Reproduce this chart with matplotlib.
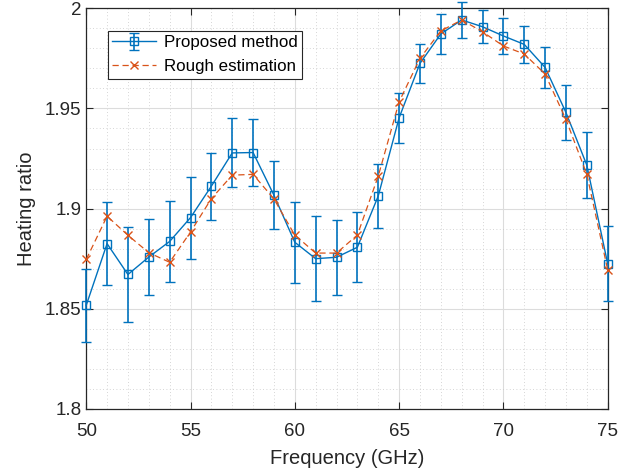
import numpy as np
import matplotlib
matplotlib.use('Agg')
import matplotlib.pyplot as plt
from matplotlib.ticker import MultipleLocator

plt.rcParams['font.family'] = ['Liberation Sans', 'DejaVu Sans']

# frequency points (GHz)
freq = list(range(50, 76))

# proposed method: mean and error bar half-width
proposed = [1.8517, 1.8825, 1.8671, 1.8758, 1.8836, 1.8955, 1.9112, 1.9278,
            1.9280, 1.9067, 1.8832, 1.8750, 1.8757, 1.8807, 1.9063, 1.9453,
            1.9725, 1.9872, 1.9942, 1.9908, 1.9862, 1.9820, 1.9705, 1.9480,
            1.9217, 1.8725]
proposed_err = [0.0183, 0.0208, 0.0236, 0.0190, 0.0200, 0.0205, 0.0167, 0.0172,
                0.0165, 0.0171, 0.0201, 0.0212, 0.0187, 0.0174, 0.0158, 0.0123,
                0.0098, 0.0100, 0.0090, 0.0082, 0.0088, 0.0092, 0.0104, 0.0138,
                0.0164, 0.0188]

# rough estimation
rough = [1.8746, 1.8962, 1.8867, 1.8780, 1.8732, 1.8883, 1.9050, 1.9167,
         1.9171, 1.9048, 1.8868, 1.8778, 1.8778, 1.8868, 1.9162, 1.9533,
         1.9750, 1.9887, 1.9942, 1.9883, 1.9812, 1.9772, 1.9672, 1.9445,
         1.9171, 1.8695]

blue = '#0072BD'
orange = '#D95319'
dark = '#262626'

fig = plt.figure(figsize=(6.41, 4.76), dpi=100)
ax = fig.add_axes([0.1345, 0.141, 0.8135, 0.8415])

eb = ax.errorbar(freq, proposed, yerr=proposed_err, color=blue, lw=1.0,
                 elinewidth=1.2, capsize=3.5, capthick=1.2, marker='s',
                 markersize=6, markerfacecolor='none', markeredgewidth=1.0,
                 label='Proposed method', zorder=3)
# let the end error bars stick out of the axes like in the original
for art in [eb.lines[0]] + list(eb.lines[1]) + list(eb.lines[2]):
    art.set_clip_on(False)
rl, = ax.plot(freq, rough, color=orange, lw=0.9, ls=(0, (5, 3)), marker='x',
              markersize=6, markeredgewidth=1.0, label='Rough estimation',
              zorder=4, clip_on=False)

ax.set_xlim(50, 75)
ax.set_ylim(1.8, 2.0)
ax.xaxis.set_major_locator(MultipleLocator(5))
ax.xaxis.set_minor_locator(MultipleLocator(1))
ax.yaxis.set_minor_locator(MultipleLocator(0.01))
ax.set_yticks([1.8, 1.85, 1.9, 1.95, 2.0])
ax.set_yticklabels(['1.8', '1.85', '1.9', '1.95', '2'])

ax.grid(which='major', color='#dcdcdc', lw=0.8, ls='-')
ax.grid(which='minor', color='#c8c8c8', lw=0.6, ls=(0, (1, 3)))
ax.set_axisbelow(True)

ax.tick_params(which='both', direction='in', top=True, right=True,
               colors=dark, labelsize=13.5)
ax.tick_params(which='major', length=5, width=0.8)
ax.tick_params(axis='x', which='major', pad=10)
ax.tick_params(which='minor', length=0)
for s in ax.spines.values():
    s.set_color(dark)
    s.set_linewidth(0.9)

ax.set_xlabel('Frequency (GHz)', fontsize=14.5, color=dark, labelpad=7)
ax.set_ylabel('Heating ratio', fontsize=14.5, color=dark, labelpad=6)

leg = ax.legend([eb, rl], ['Proposed method', 'Rough estimation'],
                loc='upper left', bbox_to_anchor=(0.025, 0.965), fontsize=12.2,
                fancybox=False, edgecolor=dark, framealpha=1,
                handlelength=2.6, borderpad=0.25, labelspacing=0.55,
                handletextpad=0.5)
leg.get_frame().set_linewidth(0.8)

fig.savefig('out.png', dpi=100)
